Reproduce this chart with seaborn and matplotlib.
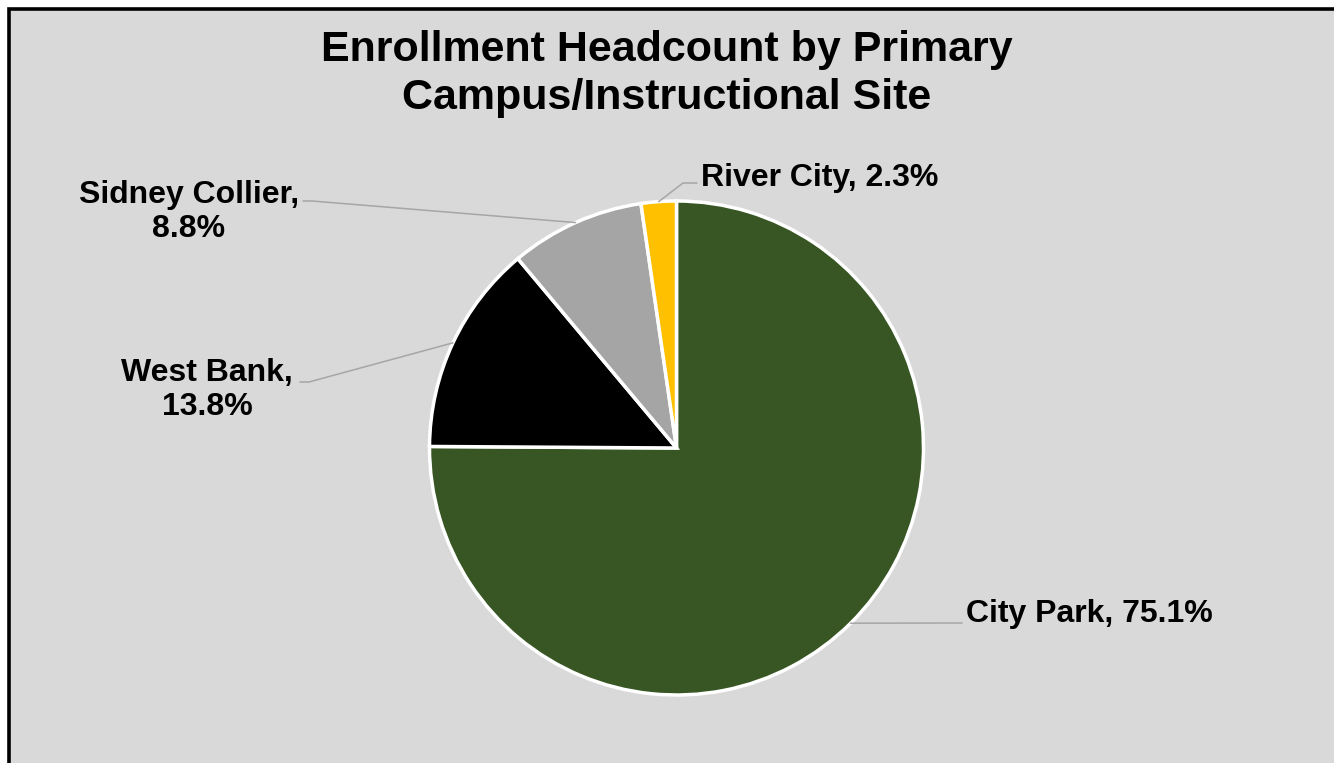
import numpy as np
import matplotlib
matplotlib.use("Agg")
import matplotlib.pyplot as plt
from matplotlib.lines import Line2D
from matplotlib.patches import Rectangle
import seaborn as sns

# data
campuses = ["City Park", "West Bank", "Sidney Collier", "River City"]
shares = [75.1, 13.8, 8.8, 2.3]
colors = ["#375623", "#000000", "#A5A5A5", "#FFC000"]
label_texts = ["City Park, 75.1%", "West Bank,\n13.8%", "Sidney Collier,\n8.8%", "River City, 2.3%"]
title = "Enrollment Headcount by Primary\nCampus/Instructional Site"

W, H = 1334, 763

sns.set_theme(style="white")
plt.rcParams["font.family"] = ["Liberation Sans", "DejaVu Sans"]


def fx(px):
    return px / W


def fy(py):
    return 1 - py / H


fig = plt.figure(figsize=(W / 100, H / 100), dpi=100, facecolor="white")

# chart area with border (right/bottom run off the image)
fig.add_artist(Rectangle((fx(9), fy(772)), fx(1340), 1.0, transform=fig.transFigure,
                         facecolor="#D9D9D9", edgecolor="black", linewidth=2.6, zorder=0))

# pie axes: centre (676.5, 448), radius 247 px
cx, cy, r = 676.5, 448, 247
ax = fig.add_axes([fx(cx - r), fy(cy + r), fx(2 * r), 2 * r / H])
ax.set_facecolor("none")
wedges, _ = ax.pie(shares, colors=sns.color_palette(colors), startangle=90, counterclock=False,
                   radius=1.0, wedgeprops=dict(edgecolor="white", linewidth=2.5))
ax.set_xlim(-1, 1)
ax.set_ylim(-1, 1)
ax.set_aspect("equal")
ax.axis("off")

fig.text(fx(667), fy(74), title, ha="center", va="center", fontsize=31, fontweight="bold",
         linespacing=1.27, color="black")

# label layout: elbow points and text anchors (pixels)
layout = [
    dict(elbow=[(962, 623)], pos=(966, 614), ha="left"),
    dict(elbow=[(309, 382), (300, 382)], pos=(207, 390), ha="center"),
    dict(elbow=[(312, 201), (303, 201)], pos=(189, 212), ha="center"),
    dict(elbow=[(683, 183), (697, 183)], pos=(701, 178), ha="left"),
]

for w, txt, lay in zip(wedges, label_texts, layout):
    mid = np.deg2rad((w.theta1 + w.theta2) / 2)
    ex = cx + r * np.cos(mid)
    ey = cy - r * np.sin(mid)
    pts = [(ex, ey)] + lay["elbow"]
    fig.add_artist(Line2D([fx(p[0]) for p in pts], [fy(p[1]) for p in pts],
                          transform=fig.transFigure, color="#A6A6A6", linewidth=1.1))
    fig.text(fx(lay["pos"][0]), fy(lay["pos"][1]), txt, ha=lay["ha"], va="center",
             multialignment="center", fontsize=23, fontweight="bold", linespacing=1.17,
             color="black")

fig.savefig("out.png", dpi=100, facecolor="white")
